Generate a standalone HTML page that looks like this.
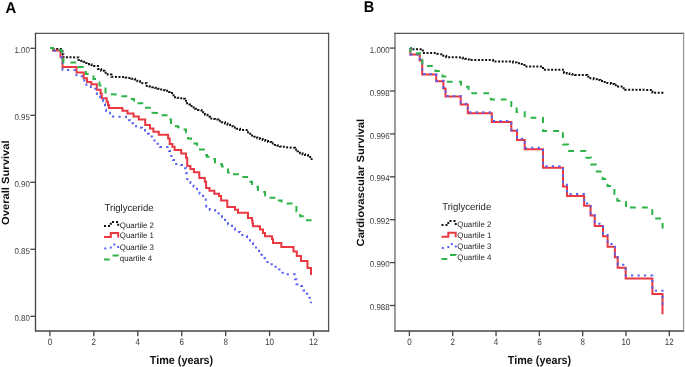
<!DOCTYPE html>
<html><head><meta charset="utf-8">
<style>
html,body{margin:0;padding:0;background:#fff;}
body{width:685px;height:367px;overflow:hidden;}
svg{display:block;font-family:"Liberation Sans", sans-serif;will-change:transform;text-rendering:geometricPrecision;}
</style></head>
<body>
<svg width="685" height="367" viewBox="0 0 685 367">
<rect width="685" height="367" fill="#fff"/>
<text transform="translate(5.6 13) scale(0.95 1)" font-size="15.6" font-weight="bold" fill="#000">A</text>
<text transform="translate(363.8 11.7) scale(0.93 1)" font-size="15.6" font-weight="bold" fill="#000">B</text>
<path d="M34.9 33.4 H329.2" stroke="#555" stroke-width="1.3" fill="none"/>
<path d="M34.9 331 H329.2" stroke="#444" stroke-width="1.4" fill="none"/>
<path d="M35.5 32.8 V331.6" stroke="#444" stroke-width="1.3" fill="none"/>
<path d="M328.6 32.8 V331.6" stroke="#555" stroke-width="1.3" fill="none"/>
<path d="M49.9 331 V336.2" stroke="#444" stroke-width="1.3"/>
<text transform="translate(49.9 344.9) scale(0.86 1)" font-size="9.3" text-anchor="middle" fill="#3a3a3a">0</text>
<path d="M93.84 331 V336.2" stroke="#444" stroke-width="1.3"/>
<text transform="translate(93.84 344.9) scale(0.86 1)" font-size="9.3" text-anchor="middle" fill="#3a3a3a">2</text>
<path d="M137.78 331 V336.2" stroke="#444" stroke-width="1.3"/>
<text transform="translate(137.78 344.9) scale(0.86 1)" font-size="9.3" text-anchor="middle" fill="#3a3a3a">4</text>
<path d="M181.72 331 V336.2" stroke="#444" stroke-width="1.3"/>
<text transform="translate(181.72 344.9) scale(0.86 1)" font-size="9.3" text-anchor="middle" fill="#3a3a3a">6</text>
<path d="M225.66 331 V336.2" stroke="#444" stroke-width="1.3"/>
<text transform="translate(225.66 344.9) scale(0.86 1)" font-size="9.3" text-anchor="middle" fill="#3a3a3a">8</text>
<path d="M269.6 331 V336.2" stroke="#444" stroke-width="1.3"/>
<text transform="translate(269.6 344.9) scale(0.86 1)" font-size="9.3" text-anchor="middle" fill="#3a3a3a">10</text>
<path d="M313.54 331 V336.2" stroke="#444" stroke-width="1.3"/>
<text transform="translate(313.54 344.9) scale(0.86 1)" font-size="9.3" text-anchor="middle" fill="#3a3a3a">12</text>
<path d="M30.3 48.3 H35.5" stroke="#444" stroke-width="1.3"/>
<text transform="translate(29.8 52.9) scale(0.93 1)" font-size="8.5" text-anchor="end" fill="#3a3a3a">1.00</text>
<path d="M30.3 115.3 H35.5" stroke="#444" stroke-width="1.3"/>
<text transform="translate(29.8 119.9) scale(0.93 1)" font-size="8.5" text-anchor="end" fill="#3a3a3a">0.95</text>
<path d="M30.3 182.3 H35.5" stroke="#444" stroke-width="1.3"/>
<text transform="translate(29.8 186.9) scale(0.93 1)" font-size="8.5" text-anchor="end" fill="#3a3a3a">0.90</text>
<path d="M30.3 249.3 H35.5" stroke="#444" stroke-width="1.3"/>
<text transform="translate(29.8 253.9) scale(0.93 1)" font-size="8.5" text-anchor="end" fill="#3a3a3a">0.85</text>
<path d="M30.3 316.3 H35.5" stroke="#444" stroke-width="1.3"/>
<text transform="translate(29.8 320.9) scale(0.93 1)" font-size="8.5" text-anchor="end" fill="#3a3a3a">0.80</text>
<text transform="translate(9 182.7) scale(0.93 1) rotate(-90)" font-size="11.2" font-weight="bold" text-anchor="middle" fill="#111">Overall Survival</text>
<text transform="translate(181.5 363.8) scale(0.93 1)" font-size="11.6" font-weight="bold" text-anchor="middle" fill="#111">Time (years)</text>
<text transform="translate(104.5 210.6) scale(0.975 1)" font-size="9.8" fill="#222">Triglyceride</text>
<path d="M394.4 33.4 H684.2" stroke="#555" stroke-width="1.3" fill="none"/>
<path d="M394.4 331 H684.2" stroke="#444" stroke-width="1.4" fill="none"/>
<path d="M395 32.8 V331.6" stroke="#666" stroke-width="1.3" fill="none"/>
<path d="M683.6 32.8 V331.6" stroke="#999" stroke-width="1.3" fill="none"/>
<path d="M409.4 331 V336.2" stroke="#444" stroke-width="1.3"/>
<text transform="translate(409.4 344.9) scale(0.86 1)" font-size="9.3" text-anchor="middle" fill="#3a3a3a">0</text>
<path d="M452.72 331 V336.2" stroke="#444" stroke-width="1.3"/>
<text transform="translate(452.72 344.9) scale(0.86 1)" font-size="9.3" text-anchor="middle" fill="#3a3a3a">2</text>
<path d="M496.04 331 V336.2" stroke="#444" stroke-width="1.3"/>
<text transform="translate(496.04 344.9) scale(0.86 1)" font-size="9.3" text-anchor="middle" fill="#3a3a3a">4</text>
<path d="M539.36 331 V336.2" stroke="#444" stroke-width="1.3"/>
<text transform="translate(539.36 344.9) scale(0.86 1)" font-size="9.3" text-anchor="middle" fill="#3a3a3a">6</text>
<path d="M582.68 331 V336.2" stroke="#444" stroke-width="1.3"/>
<text transform="translate(582.68 344.9) scale(0.86 1)" font-size="9.3" text-anchor="middle" fill="#3a3a3a">8</text>
<path d="M626 331 V336.2" stroke="#444" stroke-width="1.3"/>
<text transform="translate(626 344.9) scale(0.86 1)" font-size="9.3" text-anchor="middle" fill="#3a3a3a">10</text>
<path d="M669.32 331 V336.2" stroke="#444" stroke-width="1.3"/>
<text transform="translate(669.32 344.9) scale(0.86 1)" font-size="9.3" text-anchor="middle" fill="#3a3a3a">12</text>
<path d="M389.8 48.1 H395" stroke="#444" stroke-width="1.3"/>
<text transform="translate(389.6 52.7) scale(0.93 1)" font-size="8.5" text-anchor="end" fill="#3a3a3a">1.000</text>
<path d="M389.8 91 H395" stroke="#444" stroke-width="1.3"/>
<text transform="translate(389.6 95.6) scale(0.93 1)" font-size="8.5" text-anchor="end" fill="#3a3a3a">0.998</text>
<path d="M389.8 133.9 H395" stroke="#444" stroke-width="1.3"/>
<text transform="translate(389.6 138.5) scale(0.93 1)" font-size="8.5" text-anchor="end" fill="#3a3a3a">0.996</text>
<path d="M389.8 176.8 H395" stroke="#444" stroke-width="1.3"/>
<text transform="translate(389.6 181.4) scale(0.93 1)" font-size="8.5" text-anchor="end" fill="#3a3a3a">0.994</text>
<path d="M389.8 219.7 H395" stroke="#444" stroke-width="1.3"/>
<text transform="translate(389.6 224.3) scale(0.93 1)" font-size="8.5" text-anchor="end" fill="#3a3a3a">0.992</text>
<path d="M389.8 262.6 H395" stroke="#444" stroke-width="1.3"/>
<text transform="translate(389.6 267.2) scale(0.93 1)" font-size="8.5" text-anchor="end" fill="#3a3a3a">0.990</text>
<path d="M389.8 305.5 H395" stroke="#444" stroke-width="1.3"/>
<text transform="translate(389.6 310.1) scale(0.93 1)" font-size="8.5" text-anchor="end" fill="#3a3a3a">0.988</text>
<text transform="translate(364 182.7) scale(0.93 1) rotate(-90)" font-size="11.2" font-weight="bold" text-anchor="middle" fill="#111">Cardiovascular Survival</text>
<text transform="translate(539.5 363.8) scale(0.93 1)" font-size="11.6" font-weight="bold" text-anchor="middle" fill="#111">Time (years)</text>
<text transform="translate(442.2 209.9) scale(0.975 1)" font-size="9.8" fill="#222">Triglyceride</text>
<path d="M50 48 L53 48 L53 49 L60.5 49 L62 49 L62 51.5 L62.75 51.5 L62.75 54.4 L63.5 54.4 L63.5 57.3 L76.4 57.4 L78.5 57.4 L78.5 59.9 L80.95 59.9 L80.95 60.85 L83.4 60.85 L83.4 61.8 L86.2 61.8 L86.2 63 L89 63 L89 64.2 L91.5 64.2 L91.5 65.1 L94 65.1 L94 66 L95.7 66 L97.9 66 L97.9 69 L101.17 69 L101.17 70.83 L104.43 70.83 L104.43 72.67 L107.7 72.67 L107.7 74.5 L111.4 74.5 L111.4 76.8 L123 77 L125.5 77 L125.5 77.5 L128 77.5 L128 78 L131.4 78 L131.4 78.75 L134.8 78.75 L134.8 79.5 L137.4 79.5 L137.4 81.25 L140 81.25 L140 83 L144.6 83.2 L146.8 83.2 L146.8 86 L149.53 86 L149.53 86.6 L152.27 86.6 L152.27 87.2 L155 87.2 L155 87.8 L157.5 87.8 L157.5 88.65 L160 88.65 L160 89.5 L162.5 89.5 L162.5 90.15 L165 90.15 L165 90.8 L169 90.8 L169 91.9 L172 91.9 L172 95.2 L175 95.2 L175 97.3 L177.5 97.3 L177.5 97.75 L180 97.75 L180 98.2 L182.5 98.2 L182.5 98.85 L185 98.85 L185 99.5 L186 99.5 L186 101.95 L187 101.95 L187 104.4 L190 104.4 L190 106 L192.5 106 L192.5 107.4 L195 107.4 L195 108.8 L198 108.8 L198 109.9 L201.5 109.9 L201.5 112.35 L205 112.35 L205 114.8 L207.5 114.8 L207.5 116.7 L210 116.7 L210 118.6 L212.5 118.6 L212.5 119.1 L215 119.1 L215 119.6 L218.33 119.6 L218.33 120.87 L221.67 120.87 L221.67 122.13 L225 122.13 L225 123.4 L227.5 123.4 L227.5 124.8 L230 124.8 L230 126.2 L233.33 126.2 L233.33 127.47 L236.67 127.47 L236.67 128.73 L240 128.73 L240 130 L246 130 L248 130 L248 133.7 L252 133.7 L252 136.7 L254.67 136.7 L254.67 137.47 L257.33 137.47 L257.33 138.23 L260 138.23 L260 139 L262.67 139 L262.67 140 L265.33 140 L265.33 141 L268 141 L268 142 L271.5 142 L271.5 143.5 L275 143.5 L275 145 L277.5 145 L277.5 145.75 L280 145.75 L280 146.5 L282.5 146.5 L282.5 146.85 L285 146.85 L285 147.2 L292 147.7 L295 147.7 L295 149.5 L297.5 149.5 L297.5 151.35 L300 151.35 L300 153.2 L302.5 153.2 L302.5 154.15 L305 154.15 L305 155.1 L308 155.1 L308 157 L311.6 157 L311.6 160" stroke="#111" stroke-width="2" stroke-dasharray="2 1.6" fill="none"/>
<path d="M50 48 L52 48 L53 48 L53 50.5 L60.5 50.5 L60.5 57 L62.5 57 L62.5 67 L76.5 67 L76.5 72.6 L83.7 72.6 L83.7 78.3 L87 78.3 L87 82 L91.3 82 L91.3 84.3 L96.8 84.3 L96.8 89.8 L100.6 89.8 L100.6 93.6 L101.7 93.6 L101.7 98.3 L106.6 98.3 L106.6 101.8 L108 101.8 L108 105.2 L109 105.2 L109 107.9 L122.4 107.9 L122.4 108 L122.4 110.7 L127.5 110.7 L127.5 113.4 L133.6 113.4 L133.6 116.5 L138.8 116.5 L138.8 119.5 L145.2 119.5 L145.2 125 L150 125 L150 128.4 L153.4 128.4 L153.4 131.8 L158.8 131.8 L158.8 134.8 L168.1 134.8 L168.1 138.6 L169.7 138.6 L169.7 144.1 L172.4 144.1 L172.4 146.8 L174.6 146.8 L174.6 149.9 L181.2 149.9 L181.2 153.6 L186 153.6 L186 157.7 L187.2 157.7 L187.2 166.1 L190.4 166.1 L190.4 169 L193.9 169 L193.9 172.3 L199.3 172.3 L199.3 178 L204.8 178 L204.8 181.8 L206.1 181.8 L206.1 187.9 L209.5 187.9 L209.5 190.7 L214.3 190.7 L214.3 193.8 L219 193.8 L219 196.1 L221.1 196.1 L221.1 200.4 L227.3 200.4 L227.3 206.9 L233 206.9 L235 206.9 L235 209.8 L238 209.8 L238 212.8 L247 212.8 L248 212.8 L248 218 L252 218 L252 220.4 L252.5 220.4 L252.5 223.3 L253 223.3 L253 226.2 L258 226.2 L260 226.2 L260 229.4 L263 229.4 L263 233 L265 233 L265 236.2 L270 236.2 L272 236.2 L272 239 L273 239 L273 243 L281.3 243 L281.3 246.9 L293.5 246.9 L293.5 251.5 L296.8 251.5 L296.8 256.1 L301 256.1 L301 261.1 L307.5 261.1 L307.5 268 L311 268 L311 275" stroke="#ea3843" stroke-width="2" fill="none"/>
<path d="M50 48 L52 48 L53 48 L53 51 L60.5 51 L61 51 L61 54.35 L61.5 54.35 L61.5 57.7 L62.5 57.7 L62.5 63 L62.5 70 L76.1 70 L76.6 76.2 L82.6 76.2 L84.3 76.2 L84.3 81.6 L86.4 81.6 L86.4 86 L90.8 86 L90.8 88.7 L95.7 88.7 L95.7 90.1 L96.25 90.1 L96.25 93.2 L96.8 93.2 L96.8 96.3 L100.1 96.3 L100.1 99.6 L103 99.6 L103 104 L105 104 L105 106.6 L105.5 106.6 L105.5 109.65 L106 109.65 L106 112.7 L110 112.7 L110 116.5 L122 116.8 L126 116.8 L126 120.2 L130 120.2 L130 123.3 L133 123.3 L133 126.3 L138 126.3 L138 127.7 L142 127.7 L142 130.1 L145 130.1 L145 133.8 L149 133.8 L149 136.6 L153 136.6 L153 140.4 L156 140.4 L156 143.7 L160 143.7 L160 147 L166 147 L169 147 L169 151 L170 151 L170 156 L173 156 L173 160 L175 160 L175 164.1 L178 164.1 L178 164.55 L181 164.55 L181 165 L184 165 L184 168.2 L186 168.2 L186 173.1 L186.65 173.1 L186.65 176.15 L187.3 176.15 L187.3 179.2 L190.5 179.2 L190.5 183.1 L193.6 183.1 L193.6 186.5 L197.1 186.5 L197.1 190 L199.6 190 L199.6 193.8 L203.1 193.8 L203.1 196.9 L205.8 196.9 L205.8 200.7 L206.4 206.7 L209.8 206.7 L209.8 210 L215.1 210 L215.1 211.8 L218.6 211.8 L218.6 214.9 L222 214.9 L222 217.3 L225 217.3 L225 221.2 L228 221.2 L228 224.2 L232 224.2 L232 228.6 L235 228.6 L235 231.9 L240 231.9 L240 235.1 L245 235.1 L245 236 L247 236 L247 238.4 L250 238.4 L250 243.3 L253 243.3 L253 247.4 L256 247.4 L256 250.7 L259 250.7 L259 254.8 L262 254.8 L262 258.3 L265 258.3 L265 261.9 L270 261.9 L270 264.3 L273 264.3 L273 266.8 L277 266.8 L277 269.6 L281 269.6 L281 272.7 L286.5 272.7 L286.5 274.2 L293 274.2 L294.8 274.2 L294.8 279.3 L296.5 279.3 L296.5 284.2 L301 284.2 L301 286.1 L303.5 286.1 L303.5 290.5 L307 290.5 L307 293.8 L309.5 293.8 L309.5 297.8 L311 297.8 L311 303.2" stroke="#5762f3" stroke-width="2" stroke-dasharray="2.2 4.3" fill="none"/>
<path d="M50.00 48.00 L53.00 48.00 L53.00 50.00 L59.70 50.00 L61.70 50.00 L61.70 55.80 L62.60 55.80 L62.60 59.15 L63.50 59.15 L63.50 62.50 L77.00 62.50 L78.00 62.50 L78.00 66.90" stroke="#2db449" stroke-width="2" stroke-dasharray="5.8 6.2" stroke-dashoffset="1.10" fill="none"/>
<path d="M78.00 66.90 L78.00 67.00 L85.90 67.00 L85.90 74.00 L93.50 74.00 L93.50 75.60" stroke="#2db449" stroke-width="2" stroke-dasharray="5.8 6.2" stroke-dashoffset="0.00" fill="none"/>
<path d="M93.50 75.60 L93.50 78.90 L99.50 78.90 L99.50 85.40 L105.50 85.40 L105.50 94.20 L117.00 94.50 L121.50 94.50 L121.50 96.20 L121.50 96.20" stroke="#2db449" stroke-width="2" stroke-dasharray="5.8 6.2" stroke-dashoffset="0.00" fill="none"/>
<path d="M121.50 96.20 L121.50 96.20 L126.00 96.20 L130.00 96.20 L130.00 98.90 L134.00 98.90 L134.00 101.50 L137.50 101.50 L137.50 103.30 L137.50 103.30" stroke="#2db449" stroke-width="2" stroke-dasharray="5.8 6.2" stroke-dashoffset="0.00" fill="none"/>
<path d="M137.50 103.30 L137.50 103.30 L143.00 103.30 L145.00 103.30 L145.00 107.80 L151.00 107.80 L152.50 107.80 L152.50 112.70 L158.00 112.90 L161.00 112.90 L161.00 115.30 L167.00 115.30 L169.00 115.30 L169.00 119.60 L171.00 119.60 L171.00 122.90 L174.00 122.90 L174.00 126.20 L178.00 126.20 L178.00 127.20 L182.00 127.20 L182.00 129.40 L186.00 129.40 L186.00 132.20 L187.00 132.20 L187.00 135.35 L188.00 135.35 L188.00 138.50 L191.00 138.50 L191.00 139.80 L193.00 139.80 L193.00 143.60 L197.00 143.60 L197.00 144.70 L199.00 144.70 L199.00 149.40 L199.00 149.40" stroke="#2db449" stroke-width="2" stroke-dasharray="5.8 6.2" stroke-dashoffset="0.00" fill="none"/>
<path d="M199.00 149.40 L199.00 149.40 L204.00 149.40 L206.00 149.40 L206.00 155.00 L207.00 155.00 L207.00 156.70 L212.00 156.70 L212.00 159.00 L215.00 159.00 L215.00 162.20 L218.00 162.20 L218.00 164.30 L222.00 164.30 L222.00 166.50 L227.00 166.50 L227.00 168.20 L228.00 168.20 L228.00 172.50 L233.00 172.50 L233.00 174.20 L233.00 174.20" stroke="#2db449" stroke-width="2" stroke-dasharray="5.8 6.2" stroke-dashoffset="0.00" fill="none"/>
<path d="M233.00 174.20 L233.00 174.20 L238.00 174.20 L242.00 174.20 L242.00 176.90 L248.00 176.90 L249.00 176.90 L249.00 181.80 L252.00 181.80 L252.00 185.60 L256.00 185.60 L256.00 186.70 L258.00 186.70 L258.00 190.00 L262.70 190.00 L262.70 191.90 L265.10 191.90 L265.10 195.40 L269.20 195.40 L269.20 197.70 L276.00 197.70 L276.00 200.40 L277.90 200.40" stroke="#2db449" stroke-width="2" stroke-dasharray="5.8 6.2" stroke-dashoffset="0.00" fill="none"/>
<path d="M277.90 200.40 L281.60 200.40 L281.60 203.60 L296.40 203.60 L296.40 211.40 L300.20 211.40 L300.20 213.10 L300.20 216.30 L305.00 216.30 L305.00 220.30 L311.60 220.30" stroke="#2db449" stroke-width="2" stroke-dasharray="5.8 6.2" stroke-dashoffset="0.00" fill="none"/>
<path d="M410 48 L411 48 L411 49.2 L419.5 49.2 L422.8 49.2 L422.8 53.1 L436.3 53.1 L437 53.1 L437 53.7 L440.4 54.3 L443.3 54.3 L443.3 55.75 L446.2 55.75 L446.2 57.2 L459 57.2 L460.2 57.5 L462.6 57.5 L462.6 58.15 L465 58.15 L465 58.8 L467.3 58.8 L467.3 59.45 L469.6 59.45 L469.6 60.1 L490 60.1 L491.6 60.1 L493 60.1 L493 61.5 L508.7 61.5 L513 61.5 L513 62.5 L516.5 62.5 L516.5 63.25 L520 63.25 L520 64 L524.4 64 L524.4 65.1 L524.4 66.5 L541.5 66.5 L543 66.5 L543 69.7 L562.5 69.7 L564 69.7 L564 73 L566.75 73 L566.75 73.5 L569.5 73.5 L569.5 74 L572.25 74 L572.25 74.5 L575 74.5 L575 75 L584.3 75 L587.35 75 L587.35 76.65 L590.4 76.65 L590.4 78.3 L593.7 78.3 L593.7 79.15 L597 79.15 L597 80 L600.35 80 L600.35 80.95 L603.7 80.95 L603.7 81.9 L607.3 81.9 L607.3 82.9 L610.9 82.9 L610.9 83.9 L614.45 83.9 L614.45 85.2 L618 85.2 L618 86.5 L621.6 86.5 L621.6 88.15 L625.2 88.15 L625.2 89.8 L651.5 89.9 L652.5 89.9 L652.5 92.8 L662.5 92.8 L663 94" stroke="#111" stroke-width="2" stroke-dasharray="2 1.6" fill="none"/>
<path d="M410 48 L410.4 48 L410.4 54.5 L419.7 54.5 L419.7 60.6 L422.2 60.6 L422.2 74.4 L436.2 74.4 L436.2 81.3 L443.4 81.3 L443.4 88.6 L445.5 88.6 L445.5 96.6 L460.7 96.6 L460.7 104.4 L467.8 104.4 L467.8 113.2 L491.8 113.2 L491.8 122 L511.3 122 L511.3 130.8 L517 130.8 L517 139.9 L524.7 139.9 L524.7 149.2 L543 149.2 L543 167.8 L563 167.8 L563 186.5 L567 186.5 L567 196 L584.1 196 L584.1 205.7 L590.6 205.7 L590.6 215.6 L594.7 215.6 L594.7 226.1 L603 226.1 L603 236.3 L607.6 236.3 L607.6 246.8 L614.9 246.8 L614.9 257.3 L617.7 257.3 L617.7 267.8 L625.7 267.8 L625.7 278.6 L652.4 278.6 L652.4 294 L662.5 294 L662.5 314.3" stroke="#ea3843" stroke-width="2" fill="none"/>
<path d="M410 48 L410.4 48 L410.4 54.4123 L419.7 54.4123 L419.7 60.4299 L422.2 60.4299 L422.2 74.0436 L436.2 74.0436 L436.2 80.8504 L443.4 80.8504 L443.4 88.0519 L445.5 88.0519 L445.5 95.9439 L460.7 95.9439 L460.7 103.639 L467.8 103.639 L467.8 112.32 L491.8 112.32 L491.8 121.001 L511.3 121.001 L511.3 129.682 L517 129.682 L517 138.659 L524.7 138.659 L524.7 147.834 L543 147.834 L543 166.183 L563 166.183 L563 184.63 L567 184.63 L567 194.002 L584.1 194.002 L584.1 203.571 L590.6 203.571 L590.6 213.337 L594.7 213.337 L594.7 223.696 L603 223.696 L603 233.758 L607.6 233.758 L607.6 244.116 L614.9 244.116 L614.9 254.474 L617.7 254.474 L617.7 264.833 L625.7 264.833 L625.7 275.487 L652.4 275.487 L652.4 290.679 L662.5 290.679 L662.5 309" stroke="#5762f3" stroke-width="2" stroke-dasharray="2.2 4.3" fill="none"/>
<path d="M410.00 48.00 L410.40 48.00 L410.40 53.20 L420.00 53.20 L420.00 58.00 L422.20 58.00 L422.20 66.00 L427.00 66.00" stroke="#2db449" stroke-width="2" stroke-dasharray="5.8 6.2" stroke-dashoffset="1.00" fill="none"/>
<path d="M427.00 66.00 L435.40 66.00 L435.40 71.00 L442.50 71.00 L442.50 76.50 L446.50 76.50 L446.50 81.80 L446.90 81.80" stroke="#2db449" stroke-width="2" stroke-dasharray="5.8 6.2" stroke-dashoffset="0.00" fill="none"/>
<path d="M446.90 81.80 L461.00 81.80 L461.00 86.70 L468.50 86.70 L468.50 93.30 L471.30 93.30" stroke="#2db449" stroke-width="2" stroke-dasharray="5.8 6.2" stroke-dashoffset="0.00" fill="none"/>
<path d="M471.30 93.30 L490.90 93.30 L490.90 99.40 L500.80 99.40" stroke="#2db449" stroke-width="2" stroke-dasharray="5.8 6.2" stroke-dashoffset="0.00" fill="none"/>
<path d="M500.80 99.40 L511.30 99.40 L511.30 106.00 L516.60 106.00 L516.60 112.00 L524.70 112.00 L524.70 117.70 L543.00 117.70 L543.00 131.00 L562.90 131.00 L562.90 132.30" stroke="#2db449" stroke-width="2" stroke-dasharray="5.8 6.2" stroke-dashoffset="0.00" fill="none"/>
<path d="M562.90 132.30 L562.90 144.50 L568.00 144.50 L568.00 151.00 L585.30 151.00 L585.30 157.70 L591.00 157.70 L591.00 164.40 L595.80 164.40 L595.80 171.50 L595.80 171.50" stroke="#2db449" stroke-width="2" stroke-dasharray="5.8 6.2" stroke-dashoffset="0.00" fill="none"/>
<path d="M595.80 171.50 L595.80 171.50 L602.60 171.50 L602.60 178.90 L607.50 178.90 L607.50 186.00 L614.40 186.00 L614.40 194.00 L617.30 194.00 L617.30 200.70 L626.00 200.70 L626.00 207.60 L630.00 207.60" stroke="#2db449" stroke-width="2" stroke-dasharray="5.8 6.2" stroke-dashoffset="0.00" fill="none"/>
<path d="M630.00 207.60 L652.30 207.60 L652.30 218.40 L662.60 218.40 L662.60 228.40" stroke="#2db449" stroke-width="2" stroke-dasharray="5.8 6.2" stroke-dashoffset="0.00" fill="none"/>
<path d="M104 225.9 H110.8 V221.9 H118.2 V226.4" stroke="#111" stroke-width="2" fill="none" stroke-dasharray="2 2"/>
<text transform="translate(119.8 227.8) scale(0.985 1)" font-size="8" fill="#222">Quartile 2</text>
<path d="M104 237.1 H110.8 V233.1 H118.2 V237.6" stroke="#ea3843" stroke-width="2" fill="none"/>
<text transform="translate(119.8 238.4) scale(0.985 1)" font-size="8" fill="#222">Quartile 1</text>
<path d="M104 248.4 H110.8 V244.4 H118.2 V248.9" stroke="#5762f3" stroke-width="2" fill="none" stroke-dasharray="2 4.5" stroke-dashoffset="6.2"/>
<text transform="translate(119.8 249.7) scale(0.985 1)" font-size="8" fill="#222">Quartile 3</text>
<path d="M104 259.5 H110.8 V255.5 H118.2 V260" stroke="#2db449" stroke-width="2" fill="none" stroke-dasharray="5.7 6.8 5.8 10"/>
<text transform="translate(119.8 260.8) scale(0.985 1)" font-size="8" fill="#222">quartile 4</text>
<path d="M441.5 225.1 H448.3 V221.1 H455.7 V225.6" stroke="#111" stroke-width="2" fill="none" stroke-dasharray="2 2"/>
<text transform="translate(457.3 227) scale(0.985 1)" font-size="8" fill="#222">Quartile 2</text>
<path d="M441.5 236.8 H448.3 V232.8 H455.7 V237.3" stroke="#ea3843" stroke-width="2" fill="none"/>
<text transform="translate(457.3 238.1) scale(0.985 1)" font-size="8" fill="#222">Quartile 1</text>
<path d="M441.5 248.0 H448.3 V244.0 H455.7 V248.5" stroke="#5762f3" stroke-width="2" fill="none" stroke-dasharray="2 4.5" stroke-dashoffset="6.2"/>
<text transform="translate(457.3 249.3) scale(0.985 1)" font-size="8" fill="#222">Quartile 3</text>
<path d="M441.5 259.1 H448.3 V255.10000000000002 H455.7 V259.6" stroke="#2db449" stroke-width="2" fill="none" stroke-dasharray="5.7 6.8 5.8 10"/>
<text transform="translate(457.3 260.4) scale(0.985 1)" font-size="8" fill="#222">Quartile 4</text>
</svg>
</body></html>
